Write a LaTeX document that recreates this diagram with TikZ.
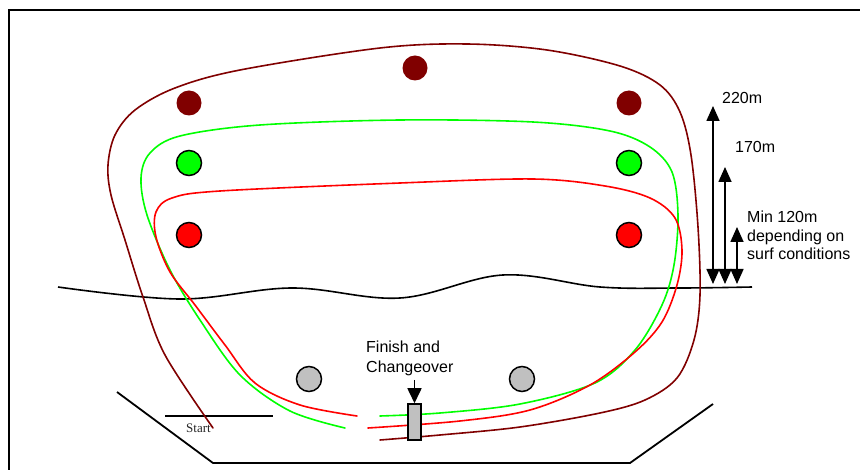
\documentclass[tikz,border=0pt]{standalone}
\usepackage{fontspec}
\setmainfont{Liberation Sans}
\newfontfamily\startfont{Liberation Serif}
\usetikzlibrary{arrows.meta}
\definecolor{buoybrown}{HTML}{800000}
\definecolor{buoygreen}{HTML}{00FF00}
\definecolor{buoyred}{HTML}{FF0000}
\definecolor{buoygrey}{HTML}{C0C0C0}
\tikzset{
  course/.style={line width=1.6pt, line cap=round},
  buoy/.style={circle, minimum size=25pt, inner sep=0pt},
  ringbuoy/.style={buoy, draw=black, line width=1.5pt},
  label16/.style={font=\fontsize{16}{18.5}\selectfont, inner sep=0pt, align=left},
  dimarrow/.style={line width=1.6pt,
    {Triangle[width=13pt,length=15pt]}-{Triangle[width=13pt,length=15pt]}},
}
\begin{document}
\begin{tikzpicture}[x=1pt,y=-1pt]
\useasboundingbox (0,0) rectangle (860,470);

% page frame
\draw[line width=2.2pt] (9,470) -- (9,10) -- (860,10);

% beach outline and start line
\draw[line width=1.8pt] (117,392) -- (213,463) -- (630,463) -- (713,404);
\draw[line width=1.8pt] (165,416) -- (273,416);
\node[font=\startfont\fontsize{13}{15}\selectfont, text=black!85, anchor=base west, inner sep=0pt] (start) at (186,432) {Start};

% shoreline
\draw[line width=1.6pt] plot[smooth, tension=0.6] coordinates
  {(58,287) (180,299) (292,288) (400,298) (503,275) (600,287) (680,288) (752,287)};

% outer (brown) course
\draw[course, buoybrown] plot[smooth, tension=0.55] coordinates
  {(213,428) (165,355) (143,297) (125,240) (111,195) (108,165) (115,135) (135,110)
   (175,88) (240,70) (380,48) (467,44) (547,50) (620,66) (660,85) (680,112)
   (691,155) (698,227) (700,295) (694,340) (677,378) (645,400) (600,413)
   (520,427) (440,435) (380,440)};

% middle (green) course
\draw[course, buoygreen] plot[smooth, tension=0.55] coordinates
  {(345,428) (290,411) (240,375) (200,320) (170,270) (147,215) (141,178) (150,153)
   (180,136) (260,125) (400,120) (533,122) (610,131) (650,147) (672,172)
   (678,215) (674,265) (662,305) (635,350) (595,383) (520,404) (440,413) (380,416)};

% inner (red) course
\draw[course, buoyred] plot[smooth, tension=0.55] coordinates
  {(357,416) (300,405) (255,383) (225,345) (195,305) (170,272) (156,237) (156,212)
   (172,198) (220,191) (400,183) (533,179) (605,186) (650,198) (675,218)
   (682,250) (677,285) (662,322) (635,352) (590,385) (530,410) (460,421) (368,428)};

% buoys
\node[buoy, fill=buoybrown] (b1) at (189,103) {};
\node[buoy, fill=buoybrown] (b2) at (415,68) {};
\node[buoy, fill=buoybrown] (b3) at (629,103) {};
\node[ringbuoy, fill=buoygreen] (g1) at (189,163) {};
\node[ringbuoy, fill=buoygreen] (g2) at (629,163) {};
\node[ringbuoy, fill=buoyred] (r1) at (189,235) {};
\node[ringbuoy, fill=buoyred] (r2) at (629,235) {};
\node[ringbuoy, fill=buoygrey] (w1) at (309,379) {};
\node[ringbuoy, fill=buoygrey] (w2) at (522,379) {};

% finish and changeover gate
\node[draw=black, line width=1.5pt, fill=buoygrey, minimum width=13pt, minimum height=36pt, inner sep=0pt] (gate) at (414.5,422) {};
\node[label16, anchor=north west, font=\fontsize{16}{19.5}\selectfont] (finish) at (366,341) {Finish and\\Changeover};
\coordinate (gatearrow) at (414.5,380);
\draw[line width=1.6pt, -{Triangle[width=14pt,length=15pt]}] (gatearrow) -- (gate.north);

% distance markers from the shoreline
\coordinate (d220a) at (713,284);
\coordinate (d220b) at (713,106);
\coordinate (d170a) at (725,284);
\coordinate (d170b) at (725,167);
\coordinate (d120a) at (737,284);
\coordinate (d120b) at (737,227);
\draw[dimarrow] (d220a) -- (d220b);
\draw[dimarrow] (d170a) -- (d170b);
\draw[dimarrow] (d120a) -- (d120b);
\node[label16, anchor=west] (l220) at (722,98) {220m};
\node[label16, anchor=west] (l170) at (735,147) {170m};
\node[label16, anchor=north west] (l120) at (747,211) {Min 120m\\depending on\\surf conditions};
\end{tikzpicture}
\end{document}
